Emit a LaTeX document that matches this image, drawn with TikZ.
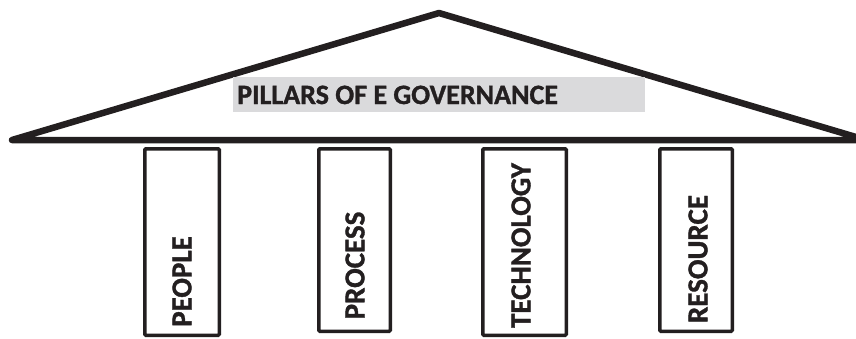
\documentclass[tikz,border=0pt]{standalone}
\usepackage{fontspec}
\setmainfont{Carlito}[BoldFeatures={FakeBold=1.2}]
\definecolor{inkblack}{RGB}{35,31,32}
\definecolor{bandgray}{RGB}{218,218,220}
\begin{document}
\begin{tikzpicture}[x=1pt,y=-1pt,
  roofline/.style={draw=inkblack,line width=6.5pt,line join=round,line cap=round},
  pillarbox/.style={draw=inkblack,line width=3.5pt,rounded corners=1pt,fill=white,inner sep=0pt},
  pillartext/.style={text=inkblack,font=\bfseries\fontsize{29}{29}\selectfont,rotate=90,inner sep=0pt},
  titleband/.style={fill=bandgray,inner sep=0pt},
  titletext/.style={text=inkblack,font=\bfseries\fontsize{28}{28}\selectfont,inner sep=0pt}]
  \useasboundingbox (0,0) rectangle (856,338);
  % roof
  \coordinate (eaveL) at (12,140);
  \coordinate (apex) at (439,13);
  \coordinate (eaveR) at (866,140);
  \begin{scope}
    \clip (0,0) rectangle (856,338);
    \draw[roofline] (eaveL) -- (apex) -- (eaveR) -- cycle;
  \end{scope}
  % title band
  \node[titleband,minimum width=412pt,minimum height=35pt] (band) at (439,94.5) {};
  \node[titletext,anchor=base west] (title) at (237,104) {PILLARS OF E GOVERNANCE};
  % pillars
  \node[pillarbox,minimum width=74.5pt,minimum height=186.5pt] (people) at (182,242) {};
  \node[pillarbox,minimum width=71.5pt,minimum height=182.5pt] (process) at (354.5,240) {};
  \node[pillarbox,minimum width=83.5pt,minimum height=186.5pt] (technology) at (524.5,242) {};
  \node[pillarbox,minimum width=72.5pt,minimum height=182.5pt] (resource) at (696,240) {};
  \node[pillartext] (peopletext) at (182,281.5) {PEOPLE};
  \node[pillartext] (processtext) at (355,265.5) {PROCESS};
  \node[pillartext] (technologytext) at (521,245.5) {TECHNOLOGY};
  \node[pillartext] (resourcetext) at (698,259) {RESOURCE};
\end{tikzpicture}
\end{document}
